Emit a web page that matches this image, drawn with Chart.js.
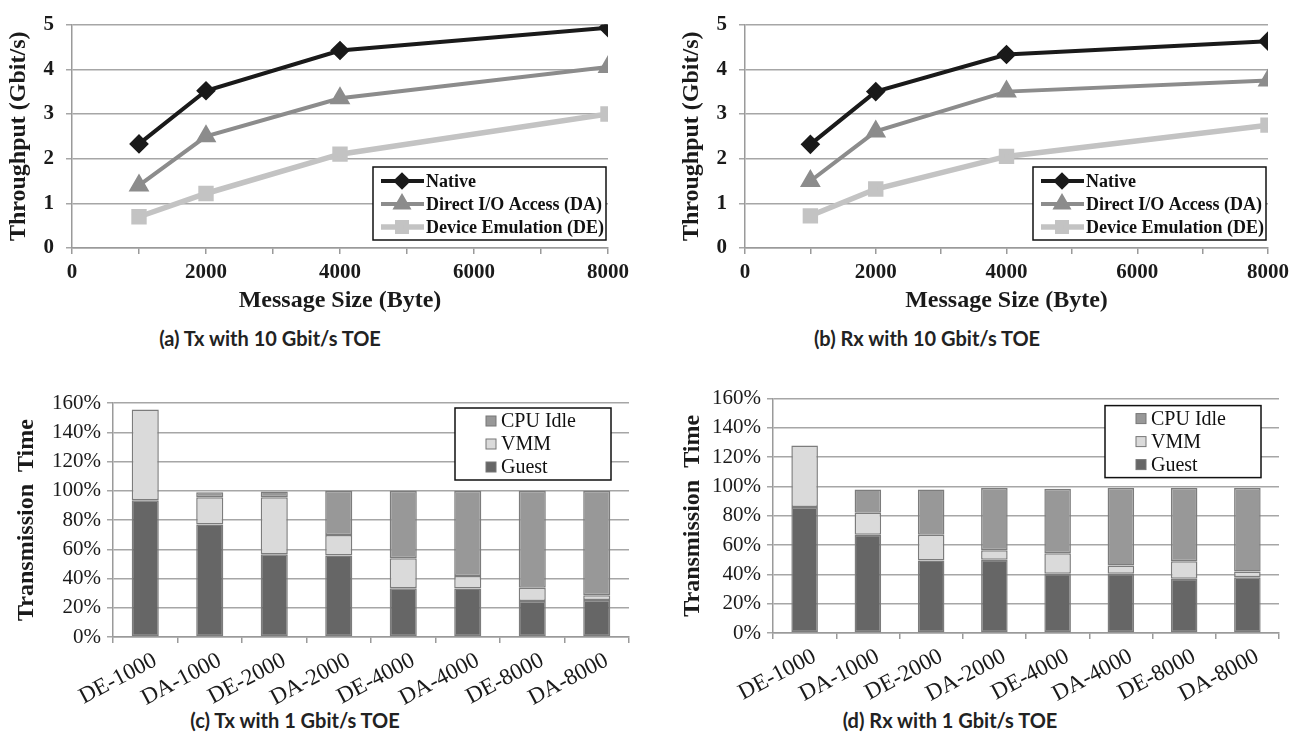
<!DOCTYPE html>
<html>
<head>
<meta charset="utf-8">
<script src="https://cdn.jsdelivr.net/npm/chart.js@4.4.1/dist/chart.umd.min.js"></script>
<style>
body { margin: 0; background: #fff; }
#page { position: relative; width: 1306px; height: 738px; overflow: hidden; background: #fff; }
canvas { position: absolute; }
.cap { position: absolute; font: bold 20px Lato, sans-serif; color: #222; white-space: nowrap; transform: translate(-50%, -50%); }
</style>
</head>
<body>
<div id="page">
  <canvas id="chartA" width="653" height="318" style="left:0;top:0"></canvas>
  <canvas id="chartB" width="653" height="318" style="left:653px;top:0"></canvas>
  <canvas id="chartC" width="653" height="328" style="left:0;top:380px"></canvas>
  <canvas id="chartD" width="653" height="328" style="left:653px;top:380px"></canvas>
  <div class="cap" style="left:270px;top:338px">(a) Tx with 10 Gbit/s TOE</div>
  <div class="cap" style="left:927px;top:338px">(b) Rx with 10 Gbit/s TOE</div>
  <div class="cap" style="left:295px;top:720px">(c) Tx with 1 Gbit/s TOE</div>
  <div class="cap" style="left:950px;top:720px">(d) Rx with 1 Gbit/s TOE</div>
</div>
<script>
// message sizes (bytes) for the throughput panels
var msgSizes = [1000, 2000, 4000, 8000];
var xTicks = [0, 2000, 4000, 6000, 8000];
var yTicks = [0, 1, 2, 3, 4, 5];

// (a) Tx with 10 Gbit/s TOE, Gbit/s
var txNative = [2.33, 3.52, 4.42, 4.93];
var txDA = [1.40, 2.50, 3.35, 4.05];
var txDE = [0.70, 1.22, 2.10, 3.00];

// (b) Rx with 10 Gbit/s TOE, Gbit/s
var rxNative = [2.32, 3.50, 4.33, 4.63];
var rxDA = [1.50, 2.61, 3.50, 3.75];
var rxDE = [0.72, 1.32, 2.05, 2.75];

// (c)/(d) transmission time breakdown, percent
var cases = ['DE-1000', 'DA-1000', 'DE-2000', 'DA-2000', 'DE-4000', 'DA-4000', 'DE-8000', 'DA-8000'];
var pctTicks = [0, 20, 40, 60, 80, 100, 120, 140, 160];

var txGuest = [93.5, 77, 56.5, 55.8, 33.4, 33.2, 24.6, 25.3];
var txVMM = [62, 18.5, 39, 14, 20.5, 8.5, 9, 3.2];
var txIdle = [0, 3.5, 4, 30.2, 46.1, 58.3, 66.4, 71.5];

var rxGuest = [86, 67, 49.5, 50, 40.5, 40.5, 37, 38];
var rxVMM = [42, 15, 17.5, 6.5, 14, 5.5, 12, 4];
var rxIdle = [0, 16, 31, 42.5, 44, 53, 50, 57];

var SERIF = "'Liberation Serif', 'Times New Roman', serif";

// legend drawn inside the plot, Excel style, with a black frame
var boxLegend = {
    id: 'boxLegend',
    afterDraw: function (chart, args, o) {
        var ctx = chart.ctx, area = chart.chartArea;
        var x = area.right - o.right - o.width;
        var y = o.top != null ? area.top + o.top : area.bottom - o.bottom - o.height;
        ctx.save();
        ctx.fillStyle = '#fff';
        ctx.fillRect(x, y, o.width, o.height);
        ctx.strokeStyle = '#111';
        ctx.lineWidth = 1.5;
        ctx.strokeRect(x, y, o.width, o.height);
        var items = chart.data.datasets.slice();
        if (o.reverse) items.reverse();
        ctx.font = o.font;
        ctx.textBaseline = 'middle';
        items.forEach(function (ds, i) {
            var cy = y + o.rowTop + i * o.rowGap;
            if (o.kind === 'line') {
                ctx.strokeStyle = ds.borderColor;
                ctx.lineWidth = ds.borderWidth;
                ctx.beginPath();
                ctx.moveTo(x + 8, cy);
                ctx.lineTo(x + 51, cy);
                ctx.stroke();
                ctx.fillStyle = ds.pointBackgroundColor;
                ctx.strokeStyle = ds.pointBackgroundColor;
                Chart.helpers.drawPoint(ctx, {pointStyle: ds.pointStyle, radius: ds.pointRadius - 1, borderWidth: 1, rotation: 0}, x + 29, cy);
            } else {
                ctx.fillStyle = ds.backgroundColor;
                ctx.fillRect(x + o.boxX, cy - 5, 10, 10);
                ctx.strokeStyle = '#777';
                ctx.lineWidth = 1;
                ctx.strokeRect(x + o.boxX, cy - 5, 10, 10);
            }
            ctx.fillStyle = '#111';
            ctx.fillText(ds.label, x + o.textX, cy + 1);
        });
        ctx.restore();
    }
};

function toPoints(vals) {
    return msgSizes.map(function (s, i) { return {x: s, y: vals[i]}; });
}

function lineChart(id, native, da, de, padLeft) {
    return new Chart(document.getElementById(id), {
        type: 'line',
        data: {
            datasets: [
                {label: 'Native', data: toPoints(native), borderColor: '#1a1a1a', pointBackgroundColor: '#1a1a1a',
                    pointBorderColor: '#1a1a1a', borderWidth: 4, pointStyle: 'rectRot', pointRadius: 7},
                {label: 'Direct I/O Access (DA)', data: toPoints(da), borderColor: '#8c8c8c', pointBackgroundColor: '#8c8c8c',
                    pointBorderColor: '#8c8c8c', borderWidth: 4, pointStyle: 'triangle', pointRadius: 8},
                {label: 'Device Emulation (DE)', data: toPoints(de), borderColor: '#c3c3c3', pointBackgroundColor: '#c3c3c3',
                    pointBorderColor: '#c3c3c3', borderWidth: 5.5, pointStyle: 'rect', pointRadius: 7}
            ]
        },
        options: {
            responsive: false,
            animation: false,
            layout: {padding: {left: padLeft, right: padLeft ? 38 : 45, top: 16, bottom: 0}},
            plugins: {
                legend: {display: false},
                tooltip: {enabled: false},
                boxLegend: {kind: 'line', width: 233, height: 73, right: 2, bottom: 8, rowTop: 14, rowGap: 23,
                    textX: 53, font: 'bold 18px ' + SERIF}
            },
            scales: {
                x: {
                    type: 'linear', min: 0, max: 8000,
                    afterBuildTicks: function (s) {
                        s.ticks = [0, 1000, 2000, 3000, 4000, 5000, 6000, 7000, 8000].map(function (v) { return {value: v}; });
                    },
                    afterFit: function (s) { s.height = 70; },
                    ticks: {
                        autoSkip: false, maxRotation: 0, padding: 6, color: '#1a1a1a',
                        font: {family: SERIF, size: 21, weight: 'bold'},
                        callback: function (v) { return xTicks.indexOf(v) >= 0 ? String(v) : ''; }
                    },
                    grid: {drawOnChartArea: false, tickLength: 6, color: '#9a9a9a', lineWidth: 1.5},
                    border: {color: '#9a9a9a', width: 1.5},
                    title: {display: true, text: 'Message Size (Byte)', color: '#1a1a1a',
                        font: {family: SERIF, size: 24, weight: 'bold'}, padding: {top: 0, bottom: 3}}
                },
                y: {
                    min: 0, max: 5,
                    afterBuildTicks: function (s) {
                        s.ticks = yTicks.map(function (v) { return {value: v}; });
                    },
                    afterFit: function (s) { s.width = 72; },
                    ticks: {padding: 12, color: '#1a1a1a', font: {family: SERIF, size: 21, weight: 'bold'}},
                    grid: {tickLength: 6, color: '#a6a6a6', lineWidth: 1.5},
                    border: {color: '#9a9a9a', width: 1.5},
                    title: {display: true, text: 'Throughput (Gbit/s)', color: '#1a1a1a',
                        font: {family: SERIF, size: 24, weight: 'bold'}, padding: {top: 4, bottom: 0}}
                }
            }
        },
        plugins: [boxLegend]
    });
}

function barChart(id, guest, vmm, idle, lay) {
    return new Chart(document.getElementById(id), {
        type: 'bar',
        data: {
            labels: cases,
            datasets: [
                {label: 'Guest', data: guest, backgroundColor: '#666666'},
                {label: 'VMM', data: vmm, backgroundColor: '#dadada'},
                {label: 'CPU Idle', data: idle, backgroundColor: '#989898'}
            ]
        },
        options: {
            responsive: false,
            animation: false,
            layout: {padding: {left: lay.left, right: lay.right, top: lay.top, bottom: 0}},
            datasets: {
                bar: {borderColor: '#7c7c7c', borderWidth: 1.5, barPercentage: 0.42, categoryPercentage: 1, borderSkipped: false}
            },
            plugins: {
                legend: {display: false},
                tooltip: {enabled: false},
                boxLegend: {kind: 'box', reverse: true, width: 156, height: 72, right: 18, top: lay.legendTop,
                    rowTop: 13, rowGap: 23, boxX: 31, textX: 46, font: '20px ' + SERIF}
            },
            scales: {
                x: {
                    stacked: true,
                    afterFit: function (s) { s.height = lay.xHeight; },
                    ticks: {autoSkip: false, minRotation: 28, maxRotation: 28, padding: 4, labelOffset: 10,
                        color: '#1a1a1a', font: {family: SERIF, size: 23}},
                    grid: {drawOnChartArea: false, tickLength: 6, color: '#9a9a9a', lineWidth: 1.5},
                    border: {color: '#9a9a9a', width: 1.5}
                },
                y: {
                    stacked: true, min: 0, max: 160,
                    afterBuildTicks: function (s) {
                        s.ticks = pctTicks.map(function (v) { return {value: v}; });
                    },
                    afterFit: function (s) { s.width = lay.yWidth; },
                    ticks: {padding: 6, color: '#1a1a1a', font: {family: SERIF, size: 21},
                        callback: function (v) { return v + '%'; }},
                    grid: {tickLength: 6, color: '#a6a6a6', lineWidth: 1.5},
                    border: {color: '#9a9a9a', width: 1.5},
                    title: {display: true, text: 'Transmission  Time', color: '#1a1a1a',
                        font: {family: SERIF, size: 24, weight: 'bold'}, padding: {top: lay.titlePad, bottom: 0}}
                }
            }
        },
        plugins: [boxLegend]
    });
}

lineChart('chartA', txNative, txDA, txDE, 0);
lineChart('chartB', rxNative, rxDA, rxDE, 20);
barChart('chartC', txGuest, txVMM, txIdle, {left: 0, right: 24, top: 23, yWidth: 113, xHeight: 71, legendTop: 5, titlePad: 12});
barChart('chartD', rxGuest, rxVMM, rxIdle, {left: 0, right: 27, top: 17, yWidth: 120, xHeight: 75, legendTop: 7, titlePad: 25});
</script>
</body>
</html>
